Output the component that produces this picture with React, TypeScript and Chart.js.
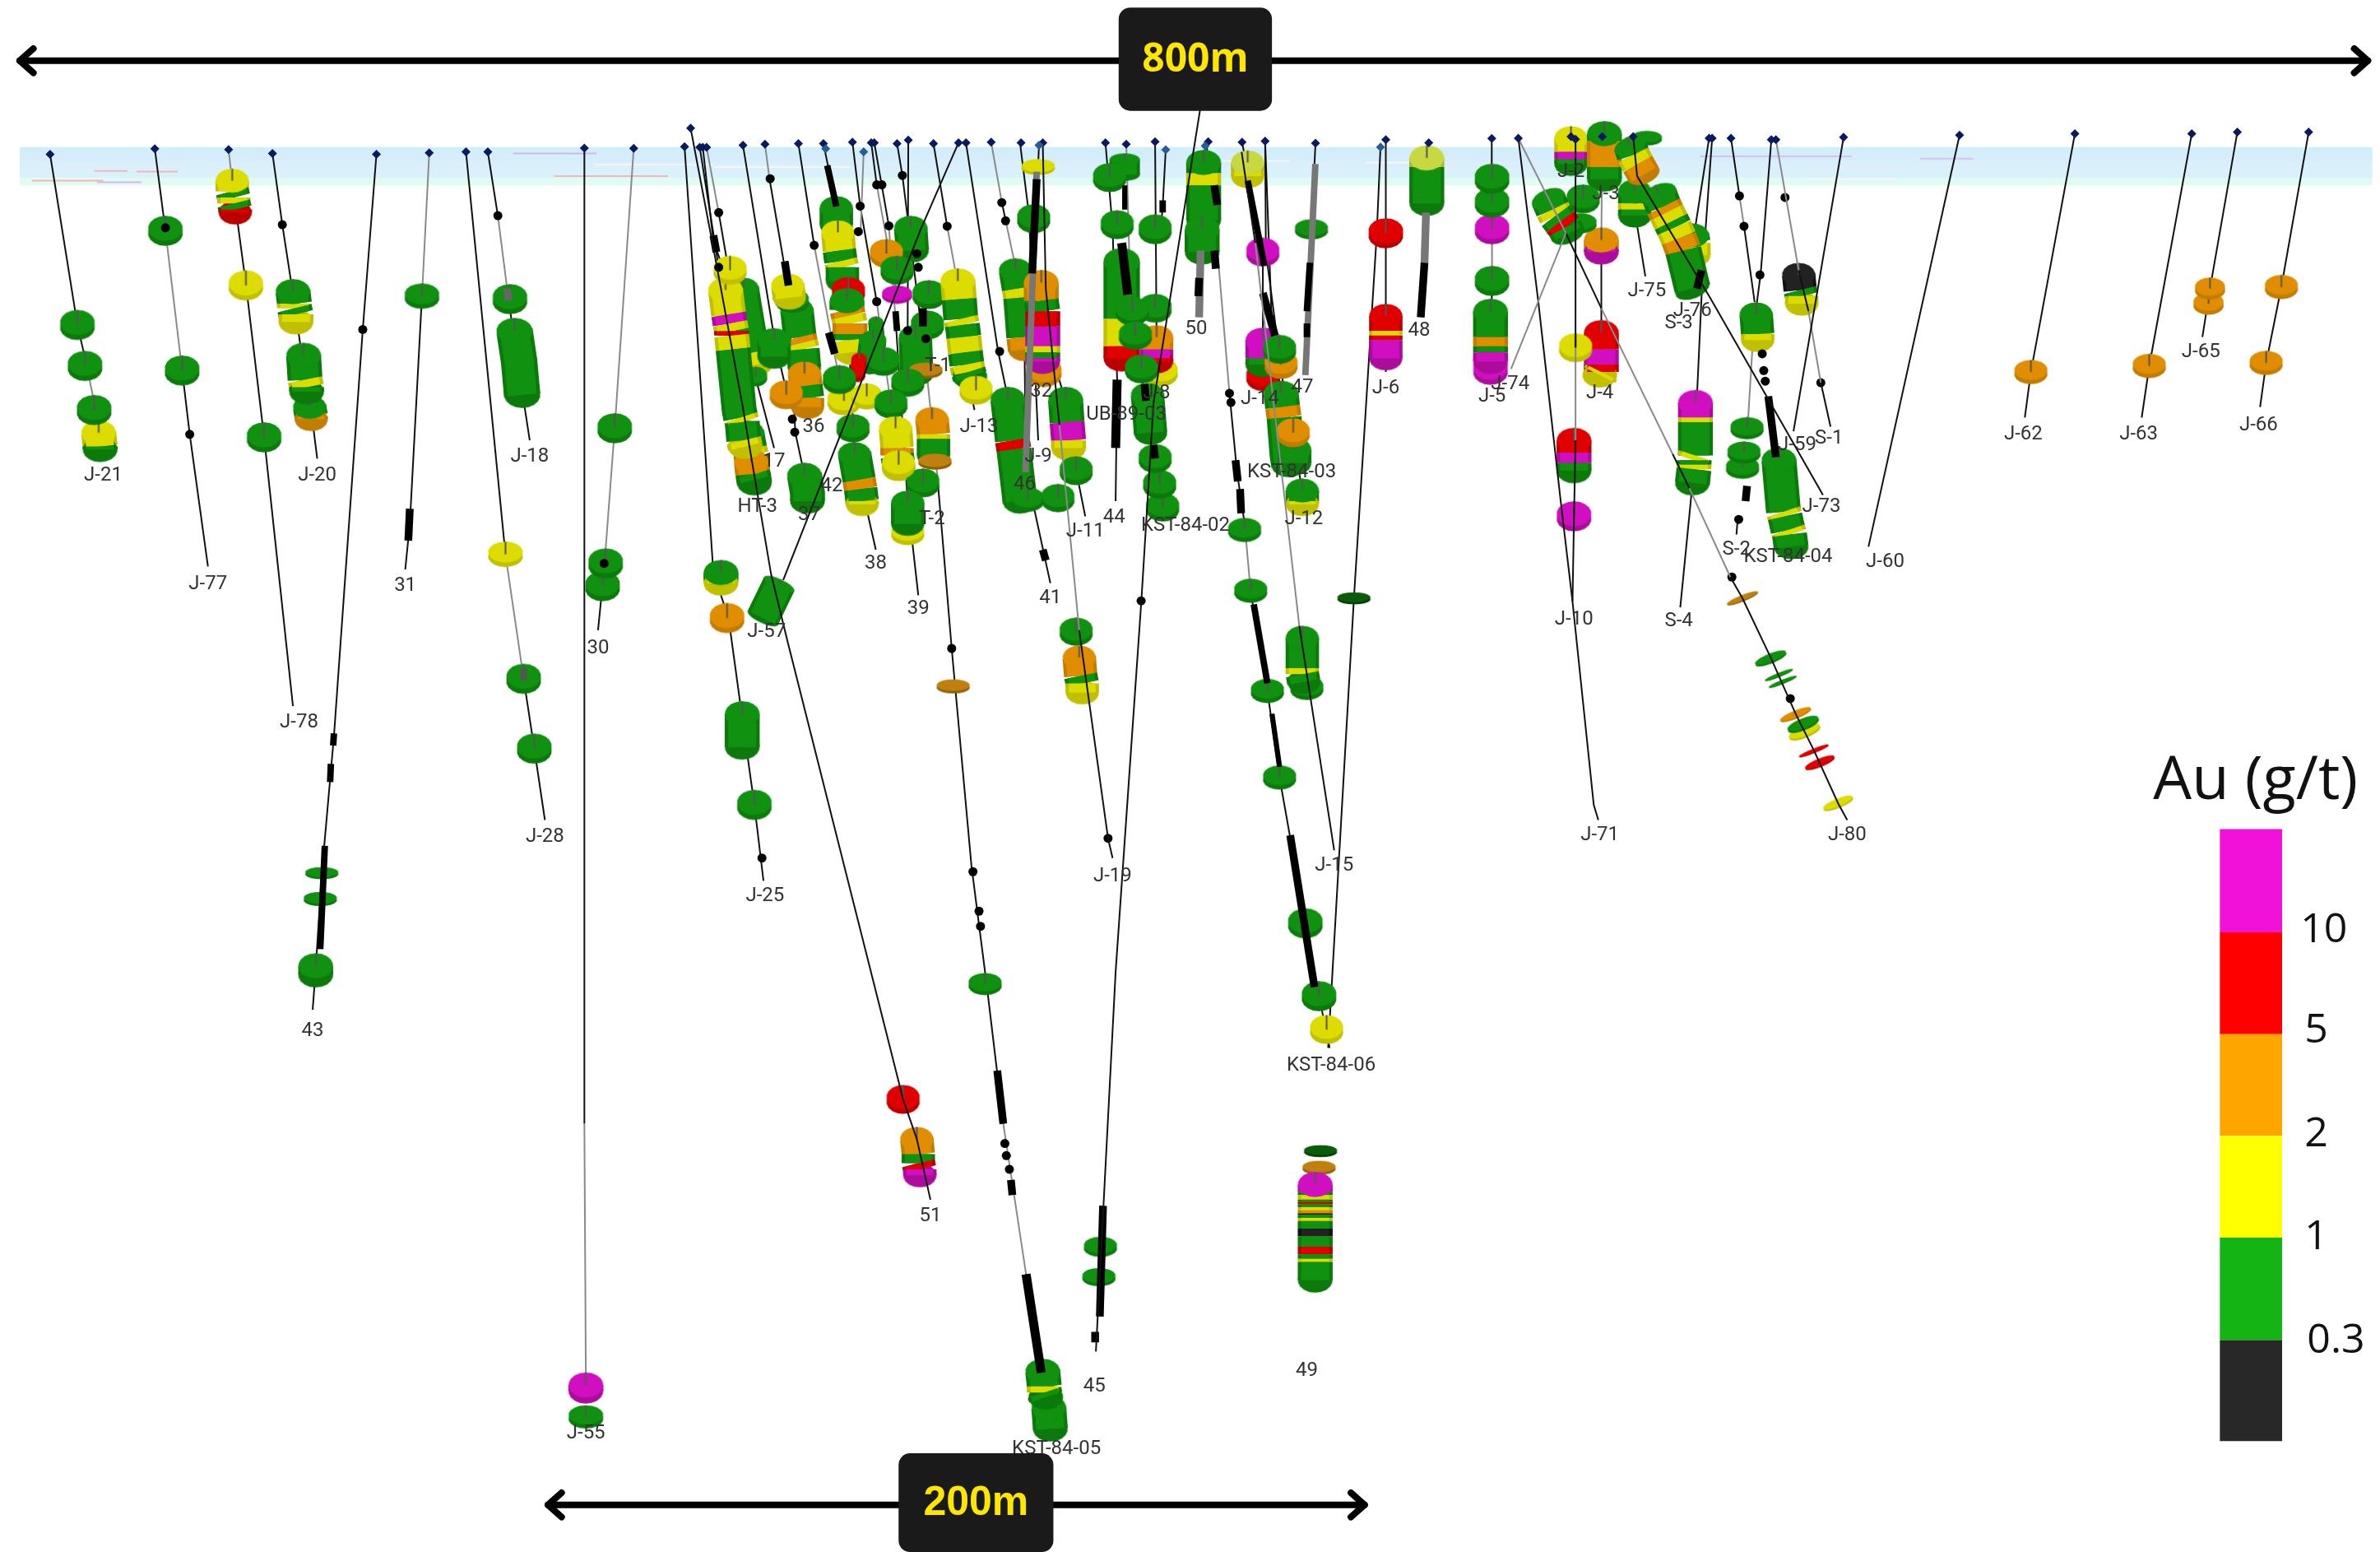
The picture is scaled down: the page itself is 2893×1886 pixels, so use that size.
import React, { useEffect, useRef } from "react";
import { Chart, registerables } from "chart.js";

Chart.register(...registerables);

const W = 2893;
const H = 1886;
const XMAX = 1568;
const YMAX = 1022;
const K = W / XMAX;

type Pt = [number, number, string?];
type Stack = [number, Pt[], number?, number?];

const gradeBase: Record<string, string> = { g: "#109110", y: "#dcdc00", o: "#e08e00", r: "#e00000", m: "#d010c0", k: "#222222", D: "#0a5c0a", Y: "#c8d840", O: "#c08010" };
const gradeDark: Record<string, string> = { g: "#0b7a0b", y: "#c0c000", o: "#c27c00", r: "#bc0000", m: "#ac0c9c", k: "#111111", D: "#063c06", Y: "#a8b434", O: "#906008" };

const legendLabels = ["10", "5", "2", "1", "0.3"];
const legendLabelX = [1531, 1526, 1526, 1526, 1539];
const legendLabelY = [613, 679, 747, 815, 883];
const legendEdges = [546, 614, 681, 748, 815, 882.5, 949];
const legendColors = ["#f012d8", "#ff0000", "#ffa500", "#ffff00", "#14b414", "#282828"];
const legendBarX = 1483;

const labelNames = ["J-21", "J-77", "J-78", "J-20", "43", "31", "J-28", "J-18", "J-55", "30", "J-25", "51", "HT-3", "17", "J-57", "36", "37", "42", "38", "39", "T-2", "J-13", "T-1", "32", "J-9", "46", "J-11", "41", "44", "KST-84-02", "UB-89-03", "J-8", "50", "J-19", "J-14", "47", "KST-84-03", "J-12", "J-15", "KST-84-06", "49", "45", "KST-84-05", "J-6", "48", "J-5", "J-74", "J-10", "J-71", "J-4", "J-2", "J-3", "J-75", "J-76", "S-3", "S-4", "S-2", "KST-84-04", "J-59", "J-73", "S-1", "J-80", "J-60", "J-62", "J-63", "J-65", "J-66"];
const labelX = [68, 137, 197, 209, 206, 267, 359, 349, 386, 394, 504, 613, 499, 510, 505, 536, 533, 548, 577, 605, 614, 645, 618, 686, 684, 675, 715, 692, 734, 781, 742, 762, 788, 733, 830, 858, 851, 859, 879, 877, 861, 721, 696, 913, 935, 983, 995, 1037, 1054, 1054, 1035, 1058, 1085, 1115, 1106, 1106, 1144, 1178, 1184, 1200, 1205, 1217, 1242, 1333, 1409, 1450, 1488];
const labelY = [313, 385, 476, 313, 679, 386, 551, 301, 944, 427, 590, 801, 334, 304, 416, 281, 339, 320, 371, 401, 342, 281, 241, 258, 301, 319, 350, 394, 341, 346, 273, 259, 217, 577, 263, 255, 311, 342, 570, 702, 903, 913, 954, 256, 218, 261, 253, 408, 550, 259, 113, 128, 192, 205, 213, 409, 362, 367, 293, 334, 289, 550, 370, 286, 286, 232, 280];

const collarX = [33, 102, 150.6, 179.5, 248, 282.8, 307, 321.4, 385, 417.5, 451, 455, 461, 463, 465.5, 489.5, 504, 526, 542.5, 561.6, 574, 576, 591, 598.4, 615, 631.5, 636.4, 653, 672.7, 687, 728.3, 742, 761, 796, 818.3, 833.5, 866.7, 913, 941.3, 982.8, 1000.3, 1035, 1038, 1055.6, 1076, 1126, 1128, 1140.4, 1167, 1170, 1214.6, 1291, 1367, 1444, 1474, 1521];
const collarY = [101.6, 98, 98.5, 101, 101.6, 100.6, 100, 100, 97.5, 97.7, 96.6, 84.4, 97, 97, 97, 95.7, 95, 94.5, 94.5, 93.6, 94, 94, 94.5, 92.3, 94.5, 94, 94, 93.6, 94, 94, 94, 95, 93.4, 93.4, 93.6, 93, 94.3, 92, 94, 91.2, 91, 90, 91.7, 90, 90, 91, 91, 91, 92, 92, 90.4, 89, 88, 88, 87, 87];
const blueCollarX = [544, 569, 684.5, 768, 794, 909.5];
const blueCollarY = [98, 100, 95.7, 98.6, 96, 96.8];

const holePaths: Pt[][] = [
  [[33, 101.6], [51, 214], [57, 240, "1"], [63, 270], [68, 300]],
  [[102, 98], [109, 152, "1"], [120, 244], [125, 286], [137, 373]],
  [[150.6, 98.5, "1"], [153, 120], [162, 187], [174, 288], [193, 465]],
  [[179.5, 101], [186, 148], [194, 200], [200, 242], [205, 270], [209, 302]],
  [[248, 101.6], [239, 217], [220, 485], [212, 575], [208, 638], [206, 665]],
  [[282.8, 100.6, "1"], [278, 195], [270, 345], [267, 375]],
  [[307, 100], [333, 365, "1"], [345, 447], [352, 493], [359, 540]],
  [[321.4, 100], [328, 142, "1"], [335, 197], [341, 238], [349, 290]],
  [[385, 97.5], [385, 740, "1"], [386, 912]],
  [[417.5, 97.7, "1"], [405, 282, "1"], [398, 375], [394, 415]],
  [[451, 96.6], [470, 377], [480, 407], [490, 480], [497, 530], [503, 580]],
  [[461, 97], [473.5, 176], [490, 290], [498, 324]],
  [[463, 97], [470, 159], [485, 200], [510, 295]],
  [[465.5, 97, "1"], [473.5, 140], [480, 178]],
  [[489.5, 95.7], [510.5, 225], [518, 257]],
  [[504, 95, "1"], [507, 118], [519, 188], [524, 285], [530, 313], [532, 330]],
  [[526, 94.5], [536.4, 161.5, "1"], [553, 250]],
  [[542.5, 94.5], [551, 136, "1"], [558, 198], [563, 300], [577, 362]],
  [[561.6, 93.6], [566.7, 135.7], [577.6, 198.6, "1"], [586, 260]],
  [[569, 100, "1"], [567, 152]],
  [[574, 94], [577.6, 121.7, "1"], [592, 200]],
  [[576, 94], [585.6, 148.7, "1"], [590, 210], [598, 330], [605, 392]],
  [[598.4, 92.3], [598, 217.7], [596, 240]],
  [[591, 94.5], [594.5, 115.5], [610, 240, "1"], [617.5, 313], [627, 427], [640, 570], [650, 648], [661, 740, "1"], [676, 839], [687, 904], [692, 941], [695, 945]],
  [[615, 94.5], [624, 149, "1"], [631, 187], [638, 250], [642, 270]],
  [[636.4, 94], [657.5, 231], [664, 262], [682, 338], [692, 384]],
  [[653, 93.6, "1"], [660, 133], [662.5, 145, "1"], [669.5, 178], [675, 230], [676, 320]],
  [[672, 94], [678, 142], [680, 190], [702, 264], [709, 310], [715, 340]],
  [[684.5, 95.7], [680, 200], [684, 290]],
  [[728.3, 94], [733, 150], [736, 250], [735, 330]],
  [[742, 95, "1"], [745, 205], [761, 302, "1"], [766, 340]],
  [[761, 93.4], [762, 225], [763, 250]],
  [[768, 98.6], [766, 136], [764, 160]],
  [[794, 96], [792, 150]],
  [[794.8, 93.6], [803, 176, "1"], [810, 259], [815, 311], [820, 345, "1"], [824, 390], [835, 455], [843, 512], [860, 608], [869, 656], [876, 690]],
  [[818.3, 93.6], [832, 166], [832, 224], [833, 255]],
  [[833.5, 93], [838, 215], [844, 259, "1"], [851, 303]],
  [[833.5, 93], [834, 166], [845, 250], [858, 323], [860, 335]],
  [[866.7, 94.3], [866, 108]],
  [[913, 92], [913, 153], [913, 208], [913, 245]],
  [[909.5, 96.8], [907, 155], [892, 394], [875, 690]],
  [[941.3, 94], [940, 104]],
  [[982.8, 91.2], [982.8, 117, "1"], [983, 185], [982, 243]],
  [[1055.6, 90, "1"], [1055, 158], [1055, 221], [1054, 250]],
  [[1126, 91], [1116.5, 152]],
  [[1128, 91], [1122, 174], [1118, 261]],
  [[1115, 319], [1107, 400]],
  [[1140.4, 91], [1146, 129, "1"], [1149, 149], [1156, 199]],
  [[1167, 92], [1160, 180], [1157, 203]],
  [[1154.5, 230, "1"], [1151.7, 276]],
  [[1145, 340], [1144, 352]],
  [[1078, 145], [1084, 182]],
  [[1291, 89], [1231, 360]],
  [[1367, 88], [1338, 245], [1334, 275]],
  [[1444, 88], [1416, 241], [1411, 275]],
  [[1474, 87], [1456, 190], [1451, 222]],
  [[1521, 87], [1503, 189], [1493, 239], [1489, 268]],
];

const frontPaths: Pt[][] = [
  [[455, 84.4], [472, 174], [489, 266], [508, 378], [519, 423], [595, 724], [604, 750], [613, 790]],
  [[631.5, 94], [606.6, 151], [568, 250], [516, 382]],
  [[818, 100], [827, 160, "1"], [856, 412], [879, 560]],
  [[687, 94], [689, 190], [698, 280, "1"], [711, 415], [730, 552], [733, 565]],
  [[791, 70], [760, 265], [752, 395], [735, 640], [727, 794], [722, 890]],
  [[1000.3, 91, "1"], [1031.6, 153.5], [1055, 203, "1"], [1102, 299], [1113, 321.5, "1"], [1140, 380], [1148, 394], [1166.6, 433], [1183, 470], [1195, 494], [1211, 529], [1217, 540]],
  [[1000.3, 91], [1013.5, 199], [1028, 328], [1036, 396], [1050, 530], [1053, 540]],
  [[1038, 91.7], [1038, 229, "1"], [1038, 290], [1037, 340], [1036, 396]],
  [[1031.6, 153.5, "1"], [995.5, 243]],
  [[1076, 90], [1078.6, 116], [1126, 195], [1165, 263], [1201, 326]],
  [[1170, 92, "1"], [1185, 178], [1191.5, 205, "1"], [1199.6, 252], [1206, 281]],
  [[1214.6, 90.4], [1181.6, 284]],
];

const stacks: Stack[] = [
  [23, [[65, 285, "y"], [66, 294, "g"], [66, 296, "g"]]], [23, [[62, 270, "g"]]], [23, [[56, 241, "g"]]], [23, [[51, 214, "g"]]],
  [23, [[109, 152, "g"]]], [23, [[120, 244, "g"]]],
  [22, [[153, 119, "y"], [153, 126, "g"], [154, 130, "y"], [154, 134, "g"], [155, 138, "r"], [155, 140, "r"]]], [23, [[162, 188, "y"]]], [23, [[174, 288, "g"]]],
  [22, [[204, 268, "g"], [205, 274, "o"], [205, 276, "o"]]], [23, [[200, 234, "g"], [201, 250, "y"], [202, 255, "g"], [202, 258, "g"]]], [23, [[193, 192, "g"], [194, 200, "y"], [194, 203, "g"], [195, 207, "y"], [195, 212, "g"]]],
  [22, [[212, 575, "g"]], 0.3], [22, [[211, 592, "g"]], 0.35], [23, [[208, 636, "g"], [208, 642, "D"]]],
  [23, [[278, 195, "g"]], 0.6], [23, [[333, 365, "y"]], 0.6], [23, [[345, 447, "g"]]], [23, [[352, 493, "g"]]],
  [23, [[336, 197, "g"]]], [24, [[339, 218, "g"], [342, 238, "g"], [344, 260, "g"]]],
  [23, [[405, 282, "g"]]], [23, [[397, 386, "g"]]], [23, [[399, 371, "g"]]],
  [23, [[475, 377, "g"], [475, 382, "y"], [475, 384, "y"]]], [23, [[479, 407, "o"]]], [23, [[489, 470, "g"], [489, 492, "g"]]], [23, [[497, 530, "g"]]],
  [23, [[386, 933, "g"]], 0.55], [23, [[386, 912, "m"], [386, 916, "g"]]],
  [22, [[595, 724, "r"]]], [22, [[604, 750, "o"], [605, 760, "g"], [605, 766, "r"], [606, 770, "m"], [606, 774, "O"]]],
  [23, [[691, 927, "g"], [692, 941, "g"]]], [23, [[687, 903, "g"], [688, 913, "y"], [688, 917, "g"], [689, 920, "g"]]],
  [22, [[725, 821, "g"]], 0.5], [22, [[724, 841, "g"]], 0.45],
  [22, [[870, 758, "D"]], 0.3], [22, [[869, 769, "O"]], 0.35],
  [23, [[866.5, 780, "m"], [866.5, 785, "g"], [866.5, 787, "y"], [866.5, 790, "g"], [866.5, 791.5, "r"], [866.5, 793, "g"], [866.5, 795, "y"], [866.5, 797, "o"], [866.5, 799, "k"], [866.5, 800, "g"], [866.5, 802, "y"], [866.5, 804, "g"], [866.5, 809, "k"], [866.5, 814, "g"], [866.5, 821, "r"], [866.5, 826, "g"], [866.5, 829, "y"], [866.5, 831, "g"], [866.5, 843, "g"]]],
  [22, [[874, 678, "y"]]], [23, [[869, 656, "g"]]], [23, [[860, 608, "g"]]], [22, [[843, 512, "g"]], 0.6], [22, [[835, 455, "g"]], 0.6], [22, [[824, 389, "g"]], 0.6], [22, [[820, 349, "g"]], 0.6],
  [22, [[649, 648, "g"]], 0.55], [22, [[628, 452, "O"]], 0.35],
  [23, [[982, 243.5, "m"]]], [23, [[982, 205, "g"], [982, 222, "o"], [982, 228, "g"], [982, 232, "m"], [982, 238, "m"]]], [23, [[983, 185, "g"]]], [23, [[983, 151, "m"]]], [23, [[983, 133.4, "g"]]], [23, [[983, 117.7, "g"]]],
  [23, [[913, 153.6, "r"]]], [22, [[913, 208, "r"], [913, 218, "y"], [913, 221, "r"], [913, 224, "m"], [913, 236, "m"]]],
  [23, [[940, 104, "Y"], [940, 110, "g"], [940, 134, "g"]]],
  [23, [[793, 107, "g"], [793, 114, "y"], [793, 122, "g"], [793, 145, "g"]]], [23, [[792, 151, "g"], [792, 166, "g"]]],
  [22, [[864, 151, "g"]], 0.5],
  [22, [[832, 248, "r"]]], [23, [[832, 224, "m"], [832, 236, "g"], [832, 240, "y"]]], [22, [[832, 166, "m"]]], [22, [[844, 240, "o"]]], [22, [[843, 230, "g"]]], [22, [[822, 107, "Y"], [822, 113, "y"], [822, 116, "g"]]],
  [23, [[844, 259, "g"], [845, 268, "o"], [846, 275, "g"], [848, 300, "g"], [849, 306, "g"]]], [22, [[853, 296, "g"], [853, 305, "g"]]], [22, [[852, 285, "o"]]], [22, [[858, 323, "g"], [858, 330, "y"], [858, 332, "y"]]],
  [22, [[861, 453, "g"]], 0.6], [22, [[858, 420, "g"], [858, 440, "y"], [858, 444, "g"], [859, 449, "g"]]], [22, [[892, 394, "D"]], 0.3],
  [23, [[1055, 158, "o"], [1055, 164, "m"], [1055, 166, "m"]]], [23, [[1055, 219, "r"], [1055, 230, "m"], [1055, 240, "r"], [1055, 245, "y"], [1054, 247, "y"]]], [22, [[1038, 229, "y"]]],
  [23, [[1037, 290, "r"], [1037, 298, "m"], [1037, 305, "g"], [1037, 310, "o"]]], [23, [[1037, 340, "m"]]],
  [22, [[1035, 91, "y"], [1035, 100, "m"], [1035, 105, "g"], [1035, 108, "r"]]], [23, [[1057, 88, "g"], [1057, 93, "o"], [1057, 110, "g"], [1057, 118, "m"]]],
  [22, [[1043, 131, "g"]]], [22, [[1041, 147, "g"]], 0.5], [23, [[1020, 131, "g"], [1023, 138, "y"], [1025, 142, "g"], [1028, 146, "r"], [1031, 150, "g"], [1033, 154, "g"]], 0.55, -22],
  [22, [[1077, 126, "g"], [1077, 134, "y"], [1077, 138, "g"], [1077, 142, "y"]]], [20, [[1085, 91, "g"]], 0.4], [22, [[1074, 96, "g"], [1076, 102, "y"], [1079, 108, "o"], [1083, 115, "g"]], 0.55, -22],
  [22, [[1115, 155, "g"], [1116, 160, "y"], [1116, 168, "g"]]], [24, [[1093, 128, "g"], [1096, 136, "o"], [1098, 140, "y"], [1101, 146, "g"], [1103, 150, "y"], [1106, 157, "o"], [1109, 165, "g"], [1115, 190, "g"]], 0.55, -22],
  [23, [[1117, 265, "m"], [1117, 270, "m"], [1117, 275, "y"], [1117, 278, "g"], [1117, 300, "y"], [1116, 303, "g"], [1116, 306, "y"], [1116, 309, "g"], [1115, 318, "g"]]],
  [22, [[1148, 308, "g"]], 0.55], [22, [[1149, 298, "g"]], 0.55], [22, [[1151, 282, "g"]], 0.55],
  [23, [[1172, 303, "g"], [1175, 337, "y"], [1176, 340, "g"], [1178, 349, "y"], [1179, 352, "g"], [1180, 360, "g"]]],
  [22, [[1157, 207, "g"], [1158, 220, "y"], [1158, 224, "g"]]], [22, [[1185, 181, "k"], [1186, 191, "g"], [1187, 195, "y"], [1187, 200, "g"]]],
  [22, [[1148, 394, "O"]], 0.16, -22], [22, [[1166.6, 433.6, "g"]], 0.25, -22], [20, [[1172, 444.5, "g"]], 0.12, -22], [20, [[1174.5, 449, "g"]], 0.12, -22],
  [22, [[1188.9, 482, "y"]], 0.3, -22], [22, [[1188, 477, "g"]], 0.3, -22], [22, [[1183, 470.6, "o"]], 0.2, -22], [21, [[1195, 494.5, "r"]], 0.12, -22], [21, [[1199, 502.3, "r"]], 0.22, -22], [21, [[1211, 529, "y"]], 0.25, -22],
  [22, [[1338, 245, "o"]], 0.6], [22, [[1416, 241, "o"]], 0.6], [20, [[1455, 200, "o"]], 0.6], [20, [[1456, 190, "o"]], 0.6], [22, [[1503, 189, "o"]], 0.6], [22, [[1493, 239, "o"]], 0.6],
  [22, [[513.4, 384.6, "g"], [502.5, 407, "g"]], 0.3, 25],
  [20, [[490, 190, "g"], [497, 232, "y"], [499, 240, "g"]]], [15, [[498, 248, "g"]]],
  [23, [[492, 285, "g"], [494, 296, "y"], [495, 300, "g"], [496, 312, "g"], [497, 318, "g"]]], [23, [[495, 304, "o"], [496, 312, "g"], [497, 316, "g"]]],
  [23, [[478, 191, "y"], [480, 207, "m"], [481, 213, "y"], [482, 218, "r"], [482, 221, "y"], [483, 230, "g"], [487, 270, "g"], [488, 275, "y"], [489, 278, "g"], [490, 290, "y"], [491, 294, "g"]]], [22, [[481, 178, "y"]]],
  [22, [[525, 204, "g"], [527, 222, "o"], [528, 226, "y"], [529, 230, "g"], [530, 242, "g"]]], [22, [[530, 246, "o"], [531, 254, "g"], [532, 262, "o"], [532, 268, "o"]]], [22, [[518, 260, "o"]]], [22, [[510, 224, "g"], [510, 235, "g"]]], [22, [[522, 198, "g"]], 0.6], [22, [[519, 188, "y"], [520, 196, "g"]]],
  [23, [[530, 313, "g"], [532, 325, "g"], [532, 330, "g"]]],
  [22, [[551, 137, "g"], [551, 148, "g"]]], [22, [[552, 153, "y"], [553, 165, "g"], [554, 172, "y"], [555, 176, "g"], [555, 185, "g"]]], [22, [[559, 192, "r"]]],
  [23, [[558, 198, "g"], [558, 204, "o"], [559, 208, "y"], [560, 213, "o"], [560, 220, "g"], [560, 224, "y"], [561, 232, "g"]]],
  [10, [[577, 212, "g"], [578, 225, "g"]]], [18, [[575, 224, "g"], [573, 240, "g"]]], [10, [[566, 236, "r"], [565, 248, "r"]]],
  [22, [[556, 264, "y"]]], [20, [[571, 261, "y"]]], [22, [[553, 250, "g"]]], [22, [[562, 282, "g"]], 0.7],
  [22, [[563, 299, "g"], [566, 316, "o"], [567, 322, "g"], [568, 330, "y"], [568, 332, "y"]]],
  [22, [[600, 150, "g"], [601, 165, "g"]]], [22, [[584, 167, "o"]]], [22, [[591, 178, "g"]]], [22, [[612, 194, "g"]]], [20, [[591, 194, "m"]], 0.5],
  [23, [[631, 185, "y"], [632, 197, "g"], [633, 210, "y"], [634, 214, "g"], [635, 222, "y"], [636, 232, "g"], [637, 240, "y"], [638, 245, "g"], [639, 248, "g"]]], [22, [[643, 257, "y"]]],
  [22, [[611, 214, "g"]]], [22, [[603, 222, "g"], [604, 246, "g"]]], [22, [[582, 238, "g"]]], [22, [[610, 244, "O"]], 0.4], [22, [[598, 252, "g"]], 0.7], [22, [[587, 266, "g"]]],
  [22, [[590, 282, "y"], [591, 295, "o"], [591, 300, "g"], [592, 305, "y"], [592, 309, "g"]]], [22, [[614, 276, "o"], [615, 286, "y"], [615, 289, "g"], [615, 300, "g"]]], [22, [[616, 304, "O"]], 0.4], [22, [[608, 318, "g"]]], [22, [[598, 351, "y"]], 0.6], [22, [[598, 331, "g"], [598, 345, "g"]]], [22, [[592, 306, "y"]]],
  [22, [[669, 178, "g"], [671, 190, "y"], [672, 196, "g"], [674, 222, "o"], [675, 230, "o"]]],
  [23, [[688, 245, "o"]]], [23, [[686, 186, "o"], [686, 198, "g"], [687, 205, "r"], [687, 215, "m"], [687, 228, "y"], [687, 232, "g"], [687, 236, "m"], [687, 238, "m"]]],
  [23, [[664, 263, "g"], [667, 290, "r"], [668, 296, "g"], [672, 330, "g"]]], [22, [[677, 329, "g"]], 0.6], [22, [[697, 328, "g"]], 0.7],
  [23, [[702, 263, "g"], [703, 278, "m"], [704, 290, "y"], [704, 295, "o"]]], [22, [[709, 310, "g"]]], [22, [[681, 144, "g"]]], [22, [[684, 110, "y"]], 0.4],
  [22, [[709, 416, "g"]], 0.7], [22, [[711, 433, "o"], [712, 445, "g"], [713, 450, "y"], [713, 456, "g"]]],
  [24, [[739, 172, "g"], [739, 210, "y"], [739, 228, "r"], [739, 236, "r"]]], [20, [[741, 105, "g"], [741, 115, "g"]], 0.4], [22, [[731, 117, "g"]]], [22, [[736, 148, "g"]]], [22, [[761, 151, "g"]], 0.75],
  [22, [[765, 245, "y"]]], [22, [[762, 222, "o"], [762, 230, "m"], [762, 236, "r"], [762, 238, "r"]]], [22, [[761, 203, "g"]]], [22, [[746, 205, "g"]]], [22, [[748, 221, "g"]], 0.7], [22, [[752, 243, "g"]]],
  [22, [[756, 260, "g"], [758, 285, "g"]]], [22, [[766, 334, "g"]]], [22, [[764, 319, "g"]]], [22, [[761, 302, "g"]]],
];

const rods: [number, number, number, number, number, string][] = [
  [270, 335, 269, 356, 6, "#000"], [220, 483, 219.5, 491, 5, "#000"], [218, 503, 217.5, 515, 5, "#000"], [214, 557, 211, 625, 5, "#000"],
  [657, 705, 661, 740, 6, "#000"], [676, 839, 686, 904, 7, "#000"], [726.7, 794, 724.6, 867, 6, "#000"], [721.5, 877, 721.5, 884, 6, "#000"], [666, 777, 667, 787, 6, "#000"],
  [939.5, 140, 938.5, 173, 6, "#777"], [938.5, 173, 936, 209, 6, "#000"], [791, 165, 790, 209, 6, "#777"], [790, 183, 789.5, 195, 6, "#000"],
  [866.6, 108, 860, 247, 5, "#777"], [863, 173, 861, 205, 5, "#000"], [861, 213, 861, 222, 5, "#000"], [832, 193, 840, 221, 6, "#000"], [822, 119, 833, 175, 5, "#000"],
  [814, 303, 815.5, 317, 6, "#000"], [817, 322, 817.7, 338, 6, "#000"], [826, 398, 835, 450, 5, "#000"], [838, 470, 843, 505, 4, "#000"], [850, 550, 866, 650, 6, "#000"],
  [517, 172, 519.5, 188, 6, "#000"], [545, 109, 551, 136, 5, "#000"], [470, 155, 472, 166, 6, "#000"], [546, 219, 550, 233, 6, "#000"], [687, 362, 689, 369, 6, "#000"],
  [683, 113, 675.6, 311, 5, "#777"], [683, 118, 680, 180, 6, "#000"], [739, 160, 743, 194, 7, "#000"], [736, 250, 735, 295, 7, "#000"], [741, 122, 741, 138, 4, "#000"],
  [754, 253, 755, 264, 6, "#000"], [760, 293, 761, 302, 6, "#000"], [766, 132, 766, 140, 5, "#000"], [800, 122, 802, 135, 6, "#000"], [800, 165, 801, 177, 6, "#000"],
  [590, 205, 591, 218, 5, "#000"], [608, 203, 608, 215, 6, "#000"], [1165, 261, 1170, 301, 6, "#000"], [1151, 320, 1150, 330, 6, "#000"],
  [1118, 190, 1121, 178, 6, "#000"], [334, 190, 335, 198, 6, "#666"], [345, 440, 345, 448, 5, "#555"],
];

const dotX = [109, 186, 125, 239, 328, 507.4, 536.4, 566.7, 565.5, 577.6, 581, 594.5, 585.6, 604, 605, 577.6, 610, 598, 624, 658.6, 660, 662.5, 473.5, 473.5, 522, 523.6, 751.8, 627, 641, 645, 646, 662, 663, 665, 810, 811, 1146, 1149, 1159.5, 1176, 1199.6, 1161, 1162, 1163, 1145.5, 1141, 1179.5, 502, 730, 398];
const dotY = [150, 148, 286, 217, 142, 117.7, 161.5, 135.7, 152.5, 121.7, 121.7, 115.5, 148.7, 167, 176, 198.6, 223, 217.7, 149, 231.4, 133.4, 145.4, 140, 176, 276, 284.6, 395.7, 427, 574, 600, 610, 753, 761, 770, 259, 265, 129, 149, 181, 130, 252, 233, 244, 251, 342, 380, 460, 565, 552, 371];

const arrowLines: Pt[][] = [
  [[13, 40], [1560, 40]],
  [[22, 32], [13, 40], [22, 48]],
  [[1551, 32], [1560, 40], [1551, 48]],
  [[361, 991], [899, 991]],
  [[370, 983], [361, 991], [370, 999]],
  [[890, 983], [899, 991], [890, 999]],
];

const bandY = [99.5, 104.5, 109.5, 114.5, 119.5];
const bandColors = ["#d2eefb", "#d6edfc", "#dbeffb", "#d9f1fa", "#dffbf3"];
const streakX0 = [21, 62, 90, 64, 338, 365, 392, 470, 790, 900, 1120, 1265, 1190];
const streakX1 = [68, 84, 117, 93, 393, 440, 470, 560, 850, 950, 1220, 1300, 1250];
const streakY = [119, 112.6, 113, 120, 101, 116, 108.5, 110, 106, 107, 103, 104.5, 118];
const streakColors = ["#f5b5b5", "#f5b5b5", "#f5b5b5", "#d8b5f0", "#d8b5f0", "#f0b8b8", "#f4f6f8", "#f4f6f8", "#f4f6f8", "#f4f6f8", "#d8c0f0", "#d8c0f0", "#f4f6f8"];

const boxLabels = ["800m", "200m"];
const boxX0 = [737, 592];
const boxX1 = [838, 694];
const boxY0 = [5, 957];
const boxY1 = [73, 1022];
const boxTextY = [40, 990];
const boxFonts = ['700 48px "Open Sans"', '700 50px "Liberation Sans"'];

const cache = new Map<string, HTMLCanvasElement>();
function discImage(color: string, side: string | null, w: number, aspect: number, stub: boolean) {
  const key = [color, side, w, aspect, stub].join("|");
  const hit = cache.get(key);
  if (hit) return hit;
  const rx = (w * K) / 2;
  const ry = rx * aspect;
  const t = side ? Math.min(6, ry * 0.42) : 0;
  const c = document.createElement("canvas");
  c.width = Math.ceil(rx * 2) + 2;
  c.height = Math.ceil((ry + t) * 2) + 2;
  const g = c.getContext("2d")!;
  const cx = c.width / 2;
  const cy = c.height / 2;
  const poly = (dy: number, fill: string) => {
    g.beginPath();
    for (let i = 0; i < 18; i++) {
      const a = (i / 18) * Math.PI * 2 + 0.17;
      const px = cx + rx * Math.cos(a);
      const py = cy + dy + ry * Math.sin(a);
      if (i === 0) g.moveTo(px, py);
      else g.lineTo(px, py);
    }
    g.closePath();
    g.fillStyle = fill;
    g.fill();
  };
  if (side) poly(t / 2, side);
  poly(side ? -t / 2 : 0, color);
  if (stub) {
    g.strokeStyle = "#555";
    g.lineWidth = 2;
    g.beginPath();
    g.moveTo(cx, cy - ry - t / 2);
    g.lineTo(cx, cy);
    g.stroke();
  }
  cache.set(key, c);
  return c;
}

function buildDatasets() {
  const ds: any[] = [];
  let seq = 0;
  const push = (d: any) => {
    ds.push({ type: "line", pointRadius: 0, fill: false, tension: 0, clip: false, borderCapStyle: "butt", borderJoinStyle: "miter", ...d, order: -seq });
    seq++;
  };
  bandY.forEach((y, i) => push({ label: "band", data: [{ x: 13, y }, { x: 1563, y }], borderColor: bandColors[i], borderWidth: 5.2 * K }));
  streakY.forEach((y, i) => push({ label: "streak", data: [{ x: streakX0[i], y }, { x: streakX1[i], y }], borderColor: streakColors[i], borderWidth: 2 }));

  const hole = (path: Pt[]) => {
    push({
      label: "hole",
      data: path.map((p) => ({ x: p[0], y: p[1] })),
      borderWidth: 2,
      borderColor: "#111",
      segment: { borderColor: (c: any) => (path[c.p0DataIndex][2] ? "#8a8a8a" : "#111") },
    });
  };
  holePaths.forEach(hole);

  stacks.forEach(([w, pts, asp, rot]) => {
    const aspect = asp ?? 0.72;
    const rotation = rot ?? 0;
    const data = pts.map((p) => ({ x: p[0], y: p[1] }));
    if (pts.length === 1) {
      const g = pts[0][2] as string;
      push({ label: "interval", data, pointRadius: 1, pointRotation: rotation, pointStyle: discImage(gradeBase[g], gradeDark[g], w, aspect, aspect > 0.5) });
      return;
    }
    const last = pts.length - 1;
    const capStyle = (g: string, side: boolean, stub: boolean) => discImage(side ? gradeDark[g] : gradeBase[g], null, w, aspect, stub);
    push({
      label: "interval",
      data,
      borderWidth: w * K,
      segment: { borderColor: (c: any) => gradeDark[pts[c.p0DataIndex][2] as string] },
      pointRadius: (c: any) => (c.dataIndex === last ? 1 : 0),
      pointRotation: rotation,
      pointStyle: capStyle(pts[last - 1][2] as string, true, false),
    });
    push({
      label: "interval",
      data,
      borderWidth: w * K * 0.8,
      segment: { borderColor: (c: any) => gradeBase[pts[c.p0DataIndex][2] as string] },
      pointRadius: (c: any) => (c.dataIndex === 0 ? 1 : 0),
      pointRotation: rotation,
      pointStyle: capStyle(pts[0][2] as string, false, true),
    });
  });

  rods.forEach(([x0, y0, x1, y1, w, col]) => {
    push({ label: "low", data: [{ x: x0, y: y0 }, { x: x1, y: y1 }], borderColor: col, borderWidth: w * K * 0.85 });
  });
  push({ label: "dots", data: dotX.map((x, i) => ({ x, y: dotY[i] })), showLine: false, pointRadius: 5.5, pointStyle: "circle", pointBackgroundColor: "#000", pointBorderWidth: 0 });
  frontPaths.forEach(hole);
  push({ label: "collars", data: collarX.map((x, i) => ({ x, y: collarY[i] })), showLine: false, pointRadius: 5.5, pointStyle: "rectRot", pointBackgroundColor: "#0b1a60", pointBorderWidth: 0 });
  push({ label: "collarsB", data: blueCollarX.map((x, i) => ({ x, y: blueCollarY[i] })), showLine: false, pointRadius: 5.5, pointStyle: "rectRot", pointBackgroundColor: "#2a5c94", pointBorderWidth: 0 });

  arrowLines.forEach((a) => push({ label: "arrow", data: a.map((p) => ({ x: p[0], y: p[1] })), borderColor: "#000", borderWidth: 8, borderCapStyle: "round", borderJoinStyle: "round" }));
  legendColors.forEach((col, i) =>
    push({ label: "legend", data: [{ x: legendBarX, y: legendEdges[i] }, { x: legendBarX, y: legendEdges[i + 1] }], borderColor: col, borderWidth: 41 * K })
  );
  return ds;
}

const annotations = {
  id: "annotations",
  afterDatasetsDraw(chart: any) {
    const { ctx, scales } = chart;
    const px = (v: number) => scales.x.getPixelForValue(v);
    const py = (v: number) => scales.y.getPixelForValue(v);
    ctx.save();
    ctx.textAlign = "center";
    ctx.textBaseline = "middle";
    ctx.font = '24px Roboto';
    ctx.fillStyle = "#333";
    labelNames.forEach((t, i) => ctx.fillText(t, px(labelX[i]), py(labelY[i])));
    boxLabels.forEach((t, i) => {
      ctx.beginPath();
      ctx.roundRect(px(boxX0[i]), py(boxY0[i]), px(boxX1[i]) - px(boxX0[i]), py(boxY1[i]) - py(boxY0[i]), 14);
      ctx.fillStyle = "#1a1a1a";
      ctx.fill();
      ctx.font = boxFonts[i];
      ctx.fillStyle = "#ffe600";
      ctx.fillText(t, (px(boxX0[i]) + px(boxX1[i])) / 2, py(boxTextY[i]));
    });
    ctx.fillStyle = "#111";
    ctx.font = '74px "Open Sans"';
    ctx.fillText("Au (g/t)", px(1486), py(515));
    ctx.font = '50px "Open Sans"';
    legendLabels.forEach((t, i) => ctx.fillText(t, px(legendLabelX[i]), py(legendLabelY[i])));
    ctx.restore();
  },
};

export default function App() {
  const ref = useRef<HTMLCanvasElement>(null);
  useEffect(() => {
    const chart = new Chart(ref.current as HTMLCanvasElement, {
      type: "line",
      data: { datasets: buildDatasets() },
      options: {
        animation: false,
        responsive: false,
        devicePixelRatio: 1,
        layout: { padding: 0, autoPadding: false },
        events: [],
        plugins: { legend: { display: false }, tooltip: { enabled: false } },
        scales: {
          x: { type: "linear", display: false, min: 0, max: XMAX },
          y: { type: "linear", display: false, min: 0, max: YMAX, reverse: true },
        },
      },
      plugins: [annotations],
    } as any);
    return () => chart.destroy();
  }, []);
  return (
    <canvas
      ref={ref}
      width={W}
      height={H}
      style={{ position: "absolute", left: 0, top: 0, width: W, height: H, display: "block", background: "#fff" }}
    />
  );
}
